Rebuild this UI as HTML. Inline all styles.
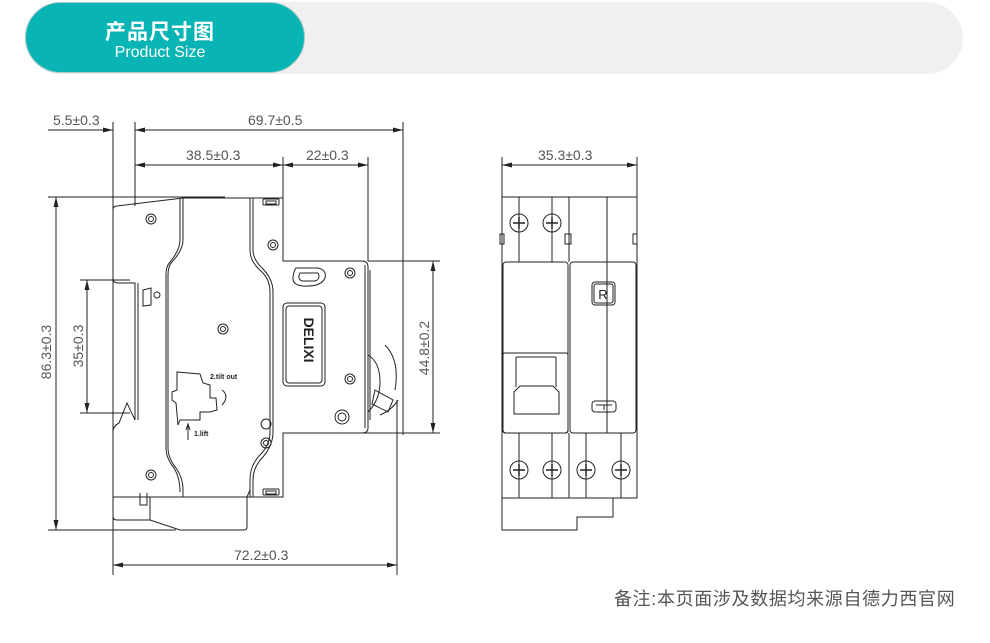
<!DOCTYPE html>
<html><head><meta charset="utf-8"><style>
html,body{margin:0;padding:0;background:#fff;width:990px;height:643px;overflow:hidden}
.wrap{position:relative;width:990px;height:643px}
.gray{position:absolute;left:25px;top:2px;width:938px;height:72px;border-radius:36px;background:#f0f0f0}
.teal{position:absolute;left:25px;top:2px;width:280px;height:71px;border-radius:36px;background:#08b5b4;border:1px solid #a9c9c9;box-sizing:border-box}
.t1{position:absolute;left:0;width:268px;top:19px;line-height:22px;text-align:center;color:#fff;font-weight:bold;font-size:21px;font-family:"Liberation Sans","Noto Sans CJK SC",sans-serif;letter-spacing:1px}
.t2{position:absolute;left:0;width:268px;top:41px;line-height:17px;text-align:center;color:#fff;font:16px "Liberation Sans",sans-serif}
.note{position:absolute;left:614px;top:585px;font:18px "Liberation Sans","Noto Sans CJK SC",sans-serif;letter-spacing:0.65px;color:#555;white-space:nowrap}
svg{position:absolute;left:0;top:0}
text{font-family:"Liberation Sans",sans-serif;font-size:14px;fill:#555}
</style></head><body><div class="wrap">
<div class="gray"></div>
<div class="teal"><div class="t1">产品尺寸图</div><div class="t2">Product Size</div></div>
<svg width="990" height="643" viewBox="0 0 990 643">
<defs><marker id="a" markerWidth="10" markerHeight="6" refX="10" refY="3" orient="auto-start-reverse" markerUnits="userSpaceOnUse"><path d="M0,0.5 L10,3 L0,5.5z" fill="#222"/></marker></defs>
<g stroke="#222" stroke-width="1" fill="none">
<line x1="113" y1="122" x2="113" y2="575"/><line x1="135" y1="122" x2="135" y2="206"/>
<line x1="403" y1="122" x2="403" y2="435"/><line x1="283" y1="157" x2="283" y2="261"/><line x1="368" y1="157" x2="368" y2="261"/>
<line x1="397" y1="400" x2="397" y2="575"/>
<line x1="48" y1="197" x2="225" y2="197"/><line x1="48" y1="530" x2="176" y2="530"/>
<line x1="80" y1="280" x2="130" y2="280"/><line x1="80" y1="413" x2="130" y2="413"/>
<line x1="368" y1="261" x2="440" y2="261"/><line x1="355" y1="433" x2="440" y2="433"/>
<line x1="48" y1="130" x2="113" y2="130"/><line x1="100" y1="130" x2="113" y2="130" marker-end="url(#a)"/>
<line x1="135" y1="130" x2="403" y2="130" marker-start="url(#a)" marker-end="url(#a)"/>
<line x1="135" y1="165" x2="283" y2="165" marker-start="url(#a)" marker-end="url(#a)"/>
<line x1="283" y1="165" x2="368" y2="165" marker-start="url(#a)" marker-end="url(#a)"/>
<line x1="56" y1="197" x2="56" y2="530" marker-start="url(#a)" marker-end="url(#a)"/>
<line x1="87" y1="280" x2="87" y2="413" marker-start="url(#a)" marker-end="url(#a)"/>
<line x1="433" y1="261" x2="433" y2="433" marker-start="url(#a)" marker-end="url(#a)"/>
<line x1="113" y1="565" x2="397" y2="565" marker-start="url(#a)" marker-end="url(#a)"/>
<path d="M117,206 L183,198 L250,198 L283,198 L283,261 L362,261 Q368,261 368,267 L368,428 Q368,433 362,433 L283,433 L283,497 L247,497 L247,527 Q247,530 244,530 L180,530 L150,520 L117,520 Q113,520 113,516 L113,432 Q113,426 119,423 L127,403 L135,420 L135,283 L118,283 Q113,283 113,278 L113,210 Q113,206 117,206z"/>
<path d="M113,497 L183,497 L183,490 M150,497 L150,520 M140,493 L140,505 L147,505 L147,493"/>
<path d="M183,198 L183,240 Q183,250 172,262 Q168,266 168,275 L168,448 Q168,458 176,468 Q183,478 183,490 L183,497 L247,497 L250,490"/>
<path d="M180,198 L180,240 Q180,250 170,262 Q166,266 166,275 L166,448 Q166,458 174,468 Q180,478 180,492"/>
<path d="M250,198 L250,250 Q250,262 262,272 Q270,280 270,292 L270,432 Q270,445 260,455 Q250,465 250,480 L250,497"/>
<path d="M253,198 L253,250 Q253,260 264,270 Q273,280 273,292 L273,432 Q273,445 263,457 Q253,467 253,480 L253,497"/>
<path d="M138,283 L138,420 M143,290 L151,288 L151,305 L143,306z"/>
<rect x="263" y="199" width="16" height="6" rx="1"/><rect x="266" y="201" width="10" height="3"/>
<rect x="263" y="489" width="16" height="6" rx="1"/><rect x="266" y="491" width="10" height="3"/>
<rect x="283" y="303" width="42" height="83" rx="4"/><rect x="286" y="306" width="36" height="77" rx="3"/>
<path d="M296,268 L318,268 Q327,270 325,278 Q321,287 303,286 Q292,285 293,277 Q294,270 296,268z"/>
<path d="M300,273 L318,273 Q321,279 315,281 L302,281 Q297,279 300,273z"/>
<path d="M368,355 Q380,362 380,382 Q380,400 368,412"/>
<path d="M375,390 L393,400 L388,412 L372,404z"/>
<path d="M385,345 Q400,360 395,390 M398,400 Q392,410 380,415"/>
<path d="M370,270 L370,420 M365,265 L365,428"/>
<path d="M177,372 L200,374 L203,383 L210,385 L210,398 L216,398 L217,410 L210,412 L200,412 L200,420 L180,420 L178,425 L176,403 L172,400 L172,392 L177,390z"/>
<path d="M188,424 L188,440 M186,430 L188,424 L190,430"/>
<path d="M222,390 Q230,396 222,405"/>
</g>
<g fill="none" stroke="#222">
<circle cx="151" cy="219" r="5"/><circle cx="151" cy="219" r="2.5"/>
<circle cx="151" cy="475" r="5"/><circle cx="151" cy="475" r="2.5"/>
<circle cx="223" cy="329" r="5"/><circle cx="223" cy="329" r="2.5"/>
<circle cx="273" cy="245" r="5"/><circle cx="273" cy="245" r="2.5"/>
<circle cx="350" cy="273" r="5"/><circle cx="350" cy="273" r="2.5"/>
<circle cx="350" cy="379" r="5"/><circle cx="350" cy="379" r="2.5"/>
<circle cx="342" cy="417" r="7"/><circle cx="342" cy="417" r="4"/>
<circle cx="266" cy="424" r="5"/>
<circle cx="266" cy="443" r="5"/><circle cx="266" cy="443" r="2.5"/>
<circle cx="157" cy="295" r="3"/>
</g>
<text x="299" y="345" transform="rotate(90 304 345)" style="font-size:14px;font-weight:bold;fill:#222" text-anchor="middle">DELIXI</text>
<text x="210" y="379" style="font-size:7px;font-weight:bold;fill:#222">2.tilt out</text>
<text x="194" y="436" style="font-size:7px;font-weight:bold;fill:#222">1.lift</text>
<g stroke="#222" fill="none">
<line x1="502" y1="157" x2="502" y2="197"/><line x1="637" y1="157" x2="637" y2="197"/>
<line x1="502" y1="165" x2="637" y2="165" marker-start="url(#a)" marker-end="url(#a)"/>
<rect x="502" y="197" width="135" height="301"/>
<path d="M502,498 L502,530 L577,530 L577,517 L613,517 L613,498"/>
<path d="M519,197 L519,262 M552,197 L552,262 M569,197 L569,262 M607,197 L607,433 M519,433 L519,498 M552,433 L552,498 M569,433 L569,498 M586,433 L586,498 M621,433 L621,498"/>
<rect x="503" y="262" width="65" height="171" rx="3"/><rect x="570" y="262" width="66" height="171" rx="3"/>
<rect x="503" y="353" width="65" height="80" rx="2"/>
<path d="M516,357 L516,387 M556,357 L556,387 M516,357 L556,357"/>
<path d="M514,414 L514,392 L520,386 L553,386 L559,392 L559,414z"/>
<rect x="592" y="282" width="23" height="23" rx="3"/><rect x="594" y="284" width="19" height="19" rx="2"/>
<rect x="592" y="401" width="24" height="11" rx="3"/>
<path d="M596,405 L612,405 M604,405 L604,410"/>
<rect x="500" y="234" width="4" height="10"/><rect x="565" y="234" width="6" height="10"/><rect x="633" y="234" width="4" height="10"/>
<circle cx="519" cy="223" r="9"/><circle cx="552" cy="223" r="9"/>
<circle cx="519" cy="470" r="9"/><circle cx="552" cy="470" r="9"/><circle cx="586" cy="470" r="9"/><circle cx="621" cy="470" r="9"/>
</g>
<g stroke="#222" stroke-width="1.5" fill="none">
<path d="M513,223h12M519,217v12M546,223h12M552,217v12M513,470h12M519,464v12M546,470h12M552,464v12M580,470h12M586,464v12M615,470h12M621,464v12"/>
</g>
<text x="603" y="299" text-anchor="middle" style="font-size:13px;fill:#222">R</text>
<text x="53" y="125">5.5±0.3</text>
<text x="248" y="125">69.7±0.5</text>
<text x="186" y="160">38.5±0.3</text>
<text x="306" y="160">22±0.3</text>
<text x="538" y="160">35.3±0.3</text>
<text x="234" y="560">72.2±0.3</text>
<text transform="translate(51,352) rotate(-90)" text-anchor="middle">86.3±0.3</text>
<text transform="translate(83,346) rotate(-90)" text-anchor="middle">35±0.3</text>
<text transform="translate(429,348) rotate(-90)" text-anchor="middle">44.8±0.2</text>
</svg>
<div class="note">备注:本页面涉及数据均来源自德力西官网</div>
</div></body></html>
